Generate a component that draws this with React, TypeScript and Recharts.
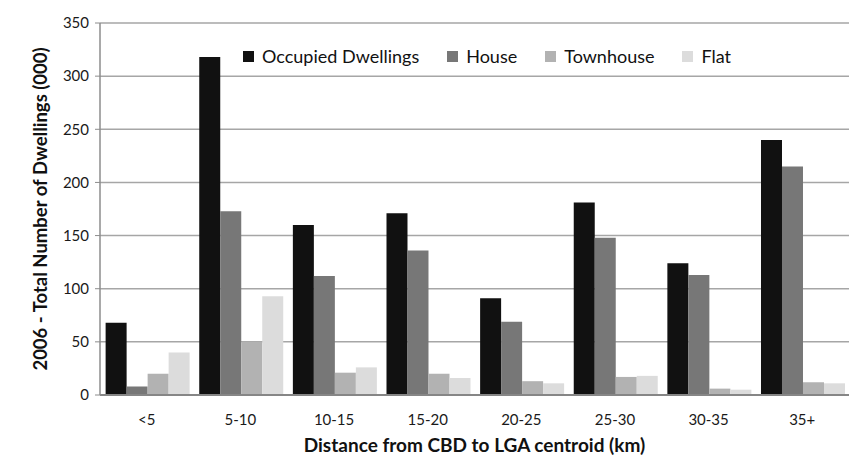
import React from "react";
import { Bar, BarChart, CartesianGrid, Legend, XAxis, YAxis } from "recharts";

const categories = ["<5", "5-10", "10-15", "15-20", "20-25", "25-30", "30-35", "35+"];
const occupied = [68, 318, 160, 171, 91, 181, 124, 240];
const house = [8, 173, 112, 136, 69, 148, 113, 215];
const townhouse = [20, 50, 21, 20, 13, 17, 6, 12];
const flat = [40, 93, 26, 16, 11, 18, 5, 11];

const yMinor = [0, 25, 50, 75, 100, 125, 150, 175, 200, 225, 250, 275, 300, 325, 350];
const yMajor = [0, 50, 100, 150, 200, 250, 300, 350];

const series = [
  { key: "occupied", name: "Occupied Dwellings", color: "#111111" },
  { key: "house", name: "House", color: "#777777" },
  { key: "townhouse", name: "Townhouse", color: "#b2b2b2" },
  { key: "flat", name: "Flat", color: "#dcdcdc" },
];

const data = categories.map((cat, i) => ({
  cat,
  occupied: occupied[i],
  house: house[i],
  townhouse: townhouse[i],
  flat: flat[i],
}));

const FONT = "Lato, 'Noto Sans', sans-serif";

function LegendBox() {
  return (
    <div style={{ display: "flex", alignItems: "center", fontFamily: FONT, fontSize: 18, color: "#111", whiteSpace: "nowrap" }}>
      {series.map((s) => (
        <div key={s.key} style={{ display: "flex", alignItems: "center", marginRight: 28 }}>
          <span style={{ width: 11, height: 11, background: s.color, marginRight: 8, display: "inline-block" }} />
          <span>{s.name}</span>
        </div>
      ))}
    </div>
  );
}

function YLabel(props: any) {
  const vb = props.viewBox || { x: 0, y: 15, width: 92, height: 372 };
  const cx = vb.x + 39;
  const cy = vb.y + vb.height / 2;
  return (
    <text
      x={cx}
      y={cy}
      transform={`rotate(-90, ${cx}, ${cy})`}
      textAnchor="middle"
      fontFamily={FONT}
      fontWeight="bold"
      fontSize={18.5}
      fill="#111"
    >
      2006 - Total Number of Dwellings (000)
    </text>
  );
}

export default function App() {
  return (
    <div style={{ width: 858, height: 474, margin: -8, overflow: "hidden", background: "#fff" }}>
      <div
        style={{
          position: "relative",
          marginLeft: 6,
          marginTop: 6,
          width: 852,
          height: 468,
          borderTop: "2px solid #a6a6a6",
          borderLeft: "2px solid #a6a6a6",
        }}
      >
        <BarChart
          width={850}
          height={466}
          data={data}
          margin={{ top: 15, right: 9, bottom: 0, left: 0 }}
          barCategoryGap="6%"
          barGap={0}
        >
          <CartesianGrid vertical={false} stroke="#a6a6a6" strokeWidth={1.5} />
          <YAxis
            yAxisId="minor"
            width={0}
            domain={[0, 350]}
            ticks={yMinor}
            interval={0}
            tickFormatter={() => ""}
            tickSize={5}
            tickLine={{ stroke: "#8c8c8c" }}
            axisLine={false}
          />
          <XAxis
            dataKey="cat"
            height={79}
            tickLine={false}
            axisLine={{ stroke: "#868686", strokeWidth: 2 }}
            tick={{ fontSize: 15, fill: "#1a1a1a", fontFamily: FONT }}
            tickMargin={13}
            interval={0}
            label={{
              value: "Distance from CBD to LGA centroid (km)",
              position: "insideBottom",
              offset: 22,
              fontSize: 19,
              fontWeight: "bold",
              fill: "#111",
              fontFamily: FONT,
            }}
          />
          <YAxis
            width={92}
            domain={[0, 350]}
            ticks={yMajor}
            interval={0}
            tickSize={5}
            tickLine={{ stroke: "#8c8c8c" }}
            axisLine={{ stroke: "#8c8c8c", strokeWidth: 1.5 }}
            tick={{ fontSize: 15, fill: "#1a1a1a", fontFamily: FONT }}
            tickMargin={6}
            label={<YLabel />}
          />
          <Legend
            layout="horizontal"
            verticalAlign="middle"
            align="center"
            content={() => <LegendBox />}
            wrapperStyle={{ position: "absolute", top: 37, left: 235, width: "auto" }}
          />
          {series.map((s) => (
            <Bar key={s.key} dataKey={s.key} name={s.name} fill={s.color} isAnimationActive={false} />
          ))}
        </BarChart>
      </div>
    </div>
  );
}
